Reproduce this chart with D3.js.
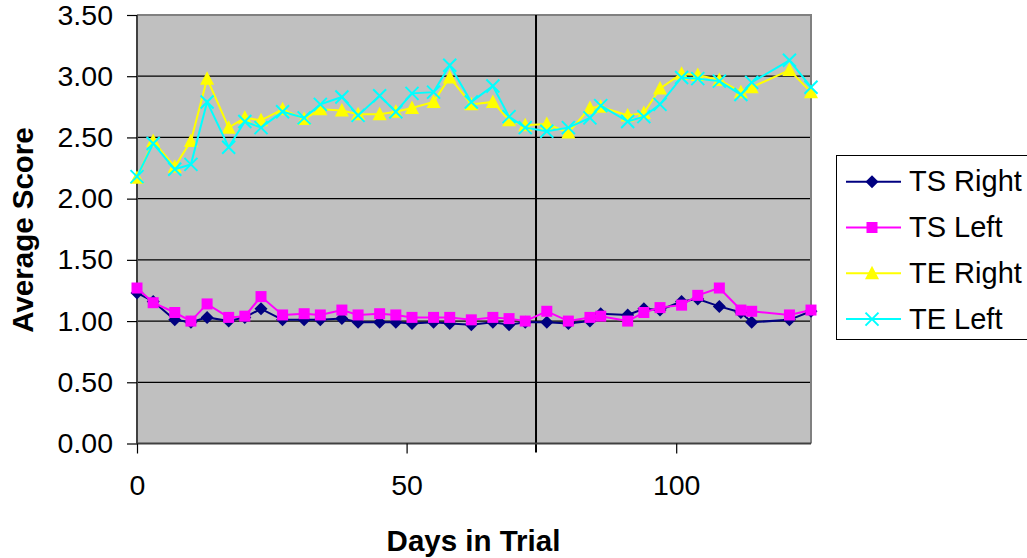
<!DOCTYPE html>
<html><head><meta charset="utf-8">
<script src="https://cdn.jsdelivr.net/npm/d3@7"></script>
<style>body{margin:0;background:#fff}svg{display:block}text{font-family:"Liberation Sans",Arial,sans-serif}</style>
</head><body><svg id="c" width="1027" height="558"></svg>
<script>
const days = [0,3,7,10,13,17,20,23,27,31,34,38,41,45,48,51,55,58,62,66,69,72,76,80,84,86,91,94,97,101,104,108,112,114,121,125];
const tsRight = [1.23,1.16,1.01,0.99,1.03,1.00,1.03,1.10,1.01,1.01,1.01,1.02,0.99,0.99,0.99,0.98,0.99,0.98,0.97,0.99,0.97,0.99,0.99,0.98,1.00,1.06,1.05,1.10,1.09,1.16,1.18,1.12,1.07,0.99,1.01,1.08];
const tsLeft  = [1.27,1.15,1.07,1.00,1.14,1.03,1.04,1.20,1.05,1.06,1.05,1.09,1.05,1.06,1.05,1.03,1.03,1.03,1.01,1.03,1.02,1.00,1.08,1.00,1.03,1.04,1.00,1.07,1.11,1.13,1.21,1.27,1.09,1.08,1.05,1.09];
const teRight = [2.17,2.47,2.26,2.47,2.98,2.58,2.66,2.64,2.73,2.65,2.73,2.72,2.69,2.69,2.71,2.74,2.79,2.99,2.77,2.79,2.64,2.60,2.61,2.54,2.74,2.75,2.68,2.70,2.90,3.02,3.01,2.97,2.87,2.91,3.05,2.87];
const teLeft  = [2.18,2.45,2.24,2.28,2.79,2.42,2.63,2.58,2.71,2.66,2.77,2.83,2.68,2.84,2.71,2.86,2.87,3.09,2.79,2.92,2.67,2.58,2.55,2.58,2.66,2.76,2.63,2.67,2.77,2.99,2.98,2.96,2.85,2.95,3.13,2.91];
const seriesNames = ["TS Right","TS Left","TE Right","TE Left"];
const seriesColors = ["#000080","#FF00FF","#FFFF00","#00FFFF"];
const seriesShapes = ["diamond","square","triangle","x"];
const yTicks = [0,0.5,1,1.5,2,2.5,3,3.5];
const xTicks = [0,50,100];
const markerDay = 74;

const svg = d3.select("#c");
const L=137, R=811, T=15, B=443.5;
const x = d3.scaleLinear().domain([0,125]).range([L,R]);
const y = d3.scaleLinear().domain([0,3.5]).range([B,T]);

svg.append("rect").attr("x",L).attr("y",T).attr("width",R-L).attr("height",B-T).attr("fill","#C0C0C0");
svg.append("g").selectAll("line").data(yTicks.slice(1,-1)).join("line")
  .attr("x1",L).attr("x2",R).attr("y1",d=>y(d)).attr("y2",d=>y(d)).attr("stroke","#000").attr("stroke-width",1.2);
svg.append("path").attr("d",`M${L},${T}H${R}V${B}`).attr("fill","none").attr("stroke","#808080").attr("stroke-width",2);
svg.append("line").attr("x1",x(markerDay)).attr("x2",x(markerDay)).attr("y1",T).attr("y2",B+9).attr("stroke","#000").attr("stroke-width",2);

const yAxis = d3.axisLeft(y).tickValues(yTicks).tickFormat(d3.format(".2f")).tickSize(10).tickPadding(14);
const gy = svg.append("g").attr("transform",`translate(${L},0)`).call(yAxis);
const xAxis = d3.axisBottom(x).tickValues(xTicks).tickFormat(d3.format("d")).tickSize(10).tickPadding(21);
const gx = svg.append("g").attr("transform",`translate(0,${B})`).call(xAxis);
[gy,gx].forEach(g=>{
  g.select(".domain").attr("stroke","#404040").attr("stroke-width",2);
  g.selectAll(".tick line").attr("stroke","#000").attr("stroke-width",1.2);
  g.selectAll(".tick text").attr("font-size",28.5).attr("fill","#000").style("font-family","'Liberation Sans',Arial,sans-serif");
});
gx.select(".domain").attr("d",`M${L},0H${R}`);
gy.select(".domain").attr("d",`M0,${B}V${T}`);

svg.append("text").attr("x",473.5).attr("y",551).attr("text-anchor","middle").attr("font-size",29.5).attr("font-weight","bold").text("Days in Trial");
svg.append("text").attr("transform",`translate(33,230) rotate(-90)`).attr("text-anchor","middle").attr("font-size",29.5).attr("font-weight","bold").text("Average Score");

function marker(g, shape, color){
  if(shape==="diamond") g.append("path").attr("d","M0,-6.5L6.5,0L0,6.5L-6.5,0Z").attr("fill",color);
  else if(shape==="square") g.append("rect").attr("x",-5.5).attr("y",-5.5).attr("width",11).attr("height",11).attr("fill",color);
  else if(shape==="triangle") g.append("path").attr("d","M0,-7.5L7,6L-7,6Z").attr("fill",color);
  else g.append("path").attr("d","M-6.5,-6.5L6.5,6.5M-6.5,6.5L6.5,-6.5").attr("stroke",color).attr("stroke-width",2).attr("fill","none");
}
const allSeries=[tsRight,tsLeft,teRight,teLeft];
const line = d3.line().x((d,i)=>x(days[i])).y(d=>y(d));
allSeries.forEach((vals,si)=>{
  const g = svg.append("g");
  g.append("path").datum(vals).attr("d",line).attr("fill","none").attr("stroke",seriesColors[si]).attr("stroke-width",2);
  vals.forEach((v,i)=>{
    const m = g.append("g").attr("transform",`translate(${x(days[i])},${y(v)})`);
    marker(m, seriesShapes[si], seriesColors[si]);
  });
});

svg.append("rect").attr("x",836.5).attr("y",155.5).attr("width",200).attr("height",184).attr("fill","#fff").attr("stroke","#000").attr("stroke-width",1);
seriesNames.forEach((n,i)=>{
  const ly = 181.7 + i*45.8;
  svg.append("line").attr("x1",846).attr("x2",901).attr("y1",ly).attr("y2",ly).attr("stroke",seriesColors[i]).attr("stroke-width",2);
  const m = svg.append("g").attr("transform",`translate(872,${ly})`);
  marker(m, seriesShapes[i], seriesColors[i]);
  svg.append("text").attr("x",909).attr("y",ly+9.5).attr("font-size",29).text(n);
});
</script></body></html>
